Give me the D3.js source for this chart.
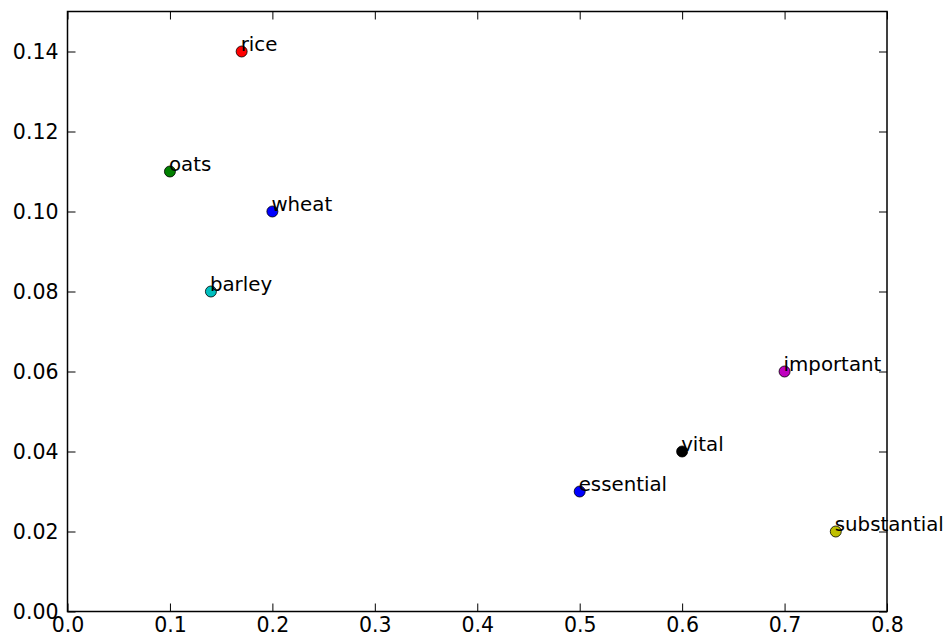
<!DOCTYPE html>
<html>
<head>
<meta charset="utf-8">
<script src="https://cdn.jsdelivr.net/npm/d3@7"></script>
<style>
  body { margin: 0; background: #fff; }
  text { font-family: "DejaVu Sans", sans-serif; }
</style>
</head>
<body>
<svg id="chart"></svg>
<script>
// data
const words = ["rice", "oats", "wheat", "barley", "important", "vital", "essential", "substantial"];
const xValues = [0.17, 0.10, 0.20, 0.14, 0.70, 0.60, 0.50, 0.75];
const yValues = [0.14, 0.11, 0.10, 0.08, 0.06, 0.04, 0.03, 0.02];
const colors = ["#ff0000", "#008000", "#0000ff", "#00bfbf", "#bf00bf", "#000000", "#0000ff", "#bfbf00"];
const xTicks = [0.0, 0.1, 0.2, 0.3, 0.4, 0.5, 0.6, 0.7, 0.8];
const yTicks = [0.00, 0.02, 0.04, 0.06, 0.08, 0.10, 0.12, 0.14];

const W = 946, H = 639;
const margin = {top: 11.5, right: 59, bottom: 27.5, left: 67.5};
const width = W - margin.left - margin.right,
      height = H - margin.top - margin.bottom;

const svg = d3.select("#chart").attr("width", W).attr("height", H);
const g = svg.append("g").attr("transform", "translate(" + margin.left + "," + margin.top + ")");

const x = d3.scaleLinear().domain([0, 0.8]).range([0, width]);
const y = d3.scaleLinear().domain([0, 0.15]).range([height, 0]);

const tickLen = 8;

// bottom axis with labels, ticks pointing inward
const xAxis = g.append("g").attr("transform", "translate(0," + height + ")")
  .call(d3.axisBottom(x).tickValues(xTicks).tickFormat(d3.format(".1f")).tickSizeInner(-tickLen).tickSizeOuter(0).tickPadding(5));
const yAxis = g.append("g")
  .call(d3.axisLeft(y).tickValues(yTicks).tickFormat(d3.format(".2f")).tickSizeInner(-tickLen).tickSizeOuter(0).tickPadding(9));
// top and right ticks
g.append("g")
  .call(d3.axisTop(x).tickValues(xTicks).tickFormat("").tickSizeInner(-tickLen).tickSizeOuter(0));
g.append("g").attr("transform", "translate(" + width + ",0)")
  .call(d3.axisRight(y).tickValues(yTicks).tickFormat("").tickSizeInner(-tickLen).tickSizeOuter(0));

g.selectAll(".domain").remove();
g.selectAll(".tick line").attr("stroke", "#000").attr("stroke-width", 1);
g.selectAll(".tick text").attr("fill", "#000").style("font-family", "DejaVu Sans, sans-serif").style("font-size", "20.5px");
xAxis.selectAll(".tick text").attr("dy", "0.75em");

// frame
g.append("rect").attr("width", width).attr("height", height)
  .attr("fill", "none").attr("stroke", "#000").attr("stroke-width", 1.5);

const data = words.map((w, i) => ({word: w, x: xValues[i], y: yValues[i], color: colors[i]}));

g.selectAll("circle.pt").data(data).enter().append("circle")
  .attr("class", "pt")
  .attr("cx", d => x(d.x)).attr("cy", d => y(d.y)).attr("r", 5.5)
  .attr("fill", d => d.color).attr("stroke", "#000").attr("stroke-width", 0.8);

g.selectAll("text.lbl").data(data).enter().append("text")
  .attr("class", "lbl")
  .attr("x", d => x(d.x) - 1).attr("y", d => y(d.y) - 1)
  .attr("fill", "#000").style("font-size", "19.8px")
  .text(d => d.word);
</script>
</body>
</html>
